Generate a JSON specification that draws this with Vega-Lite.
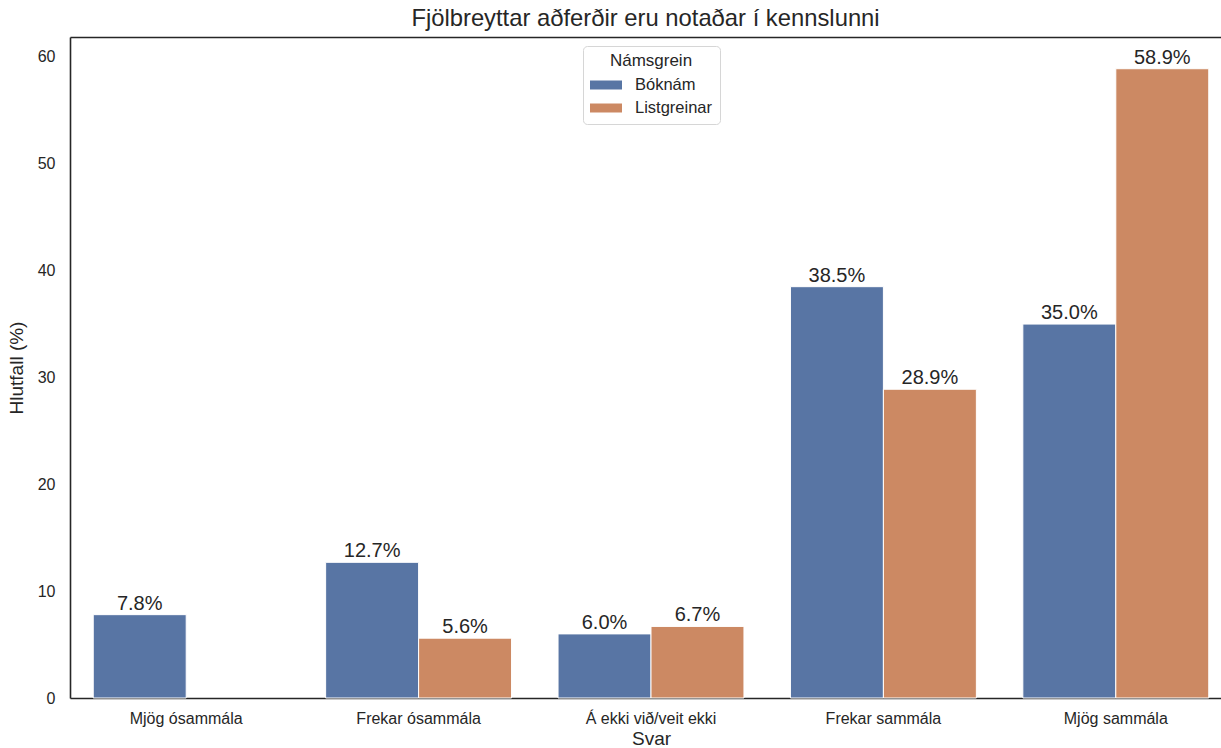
{
  "$schema": "https://vega.github.io/schema/vega-lite/v6.json",
  "autosize": "none",
  "width": 1151,
  "height": 661,
  "padding": {"left": 70, "top": 37, "right": 0, "bottom": 50},
  "background": "white",
  "title": {"text": "Fjölbreyttar aðferðir eru notaðar í kennslunni", "font": "Liberation Sans", "fontSize": 23.8, "fontWeight": "normal", "color": "#262626", "offset": 6},
  "config": {
    "font": "Liberation Sans",
    "view": {"stroke": null},
    "axis": {"grid": false, "ticks": false, "domain": false, "labelFont": "Liberation Sans", "titleFont": "Liberation Sans", "labelColor": "#262626", "titleColor": "#262626", "labelFontSize": 16, "titleFontSize": 19, "titleFontWeight": "normal", "domainColor": "#262626", "domainWidth": 1.6}
  },
  "data": {"values": [
    {"Svar": "Mjög ósammála", "Námsgrein": "Bóknám", "Hlutfall": 7.8},
    {"Svar": "Frekar ósammála", "Námsgrein": "Bóknám", "Hlutfall": 12.7},
    {"Svar": "Frekar ósammála", "Námsgrein": "Listgreinar", "Hlutfall": 5.6},
    {"Svar": "Á ekki við/veit ekki", "Námsgrein": "Bóknám", "Hlutfall": 6.0},
    {"Svar": "Á ekki við/veit ekki", "Námsgrein": "Listgreinar", "Hlutfall": 6.7},
    {"Svar": "Frekar sammála", "Námsgrein": "Bóknám", "Hlutfall": 38.5},
    {"Svar": "Frekar sammála", "Námsgrein": "Listgreinar", "Hlutfall": 28.9},
    {"Svar": "Mjög sammála", "Námsgrein": "Bóknám", "Hlutfall": 35.0},
    {"Svar": "Mjög sammála", "Námsgrein": "Listgreinar", "Hlutfall": 58.9}
  ]},
  "encoding": {
    "xOffset": {"field": "Námsgrein", "type": "nominal", "scale": {"domain": ["Bóknám", "Listgreinar"], "paddingInner": 0, "paddingOuter": 0}},
    "y": {"field": "Hlutfall", "type": "quantitative", "scale": {"domain": [0, 61.87], "nice": false}, "axis": {"values": [0, 10, 20, 30, 40, 50, 60], "domain": true, "labelPadding": 15, "title": "Hlutfall (%)", "titlePadding": 11}}
  },
  "resolve": {"axis": {"x": "independent"}},
  "layer": [
    {
      "mark": {"type": "bar", "stroke": "white", "strokeWidth": 1},
      "encoding": {
        "x": {"field": "Svar", "type": "nominal", "sort": ["Mjög ósammála", "Frekar ósammála", "Á ekki við/veit ekki", "Frekar sammála", "Mjög sammála"], "scale": {"paddingInner": 0.2, "paddingOuter": 0.1, "range": [0, 1162]}, "axis": {"orient": "bottom", "domain": true, "labelAngle": 0, "labelPadding": 12, "title": "Svar", "titlePadding": 3}},
        "color": {"field": "Námsgrein", "type": "nominal", "scale": {"domain": ["Bóknám", "Listgreinar"], "range": ["#5875A4", "#CC8963"]}, "legend": {"title": "Námsgrein", "orient": "none", "legendX": 513, "legendY": 9, "titleAnchor": "middle", "titleFontSize": 17, "titleFontWeight": "normal", "titleColor": "#262626", "labelFontSize": 16.5, "labelColor": "#262626", "symbolType": "M-1.6,-0.45H1.6V0.45H-1.6Z", "symbolSize": 400, "symbolStrokeWidth": 0, "symbolOpacity": 1, "symbolOffset": 6, "rowPadding": 4, "labelOffset": 19, "padding": 7, "strokeColor": "#d6d6d6", "fillColor": "white", "cornerRadius": 4, "titlePadding": 5}}
      }
    },
    {
      "mark": {"type": "text", "baseline": "alphabetic", "dy": -5, "fontSize": 20, "color": "#262626", "font": "Liberation Sans", "text": {"expr": "format(datum.Hlutfall, '.1f') + '%'"}},
      "encoding": {
        "x": {"field": "Svar", "type": "nominal", "sort": ["Mjög ósammála", "Frekar ósammála", "Á ekki við/veit ekki", "Frekar sammála", "Mjög sammála"], "axis": {"orient": "top", "domain": true, "labels": false, "title": null}},
        "detail": {"field": "Námsgrein"}
      }
    }
  ]
}
